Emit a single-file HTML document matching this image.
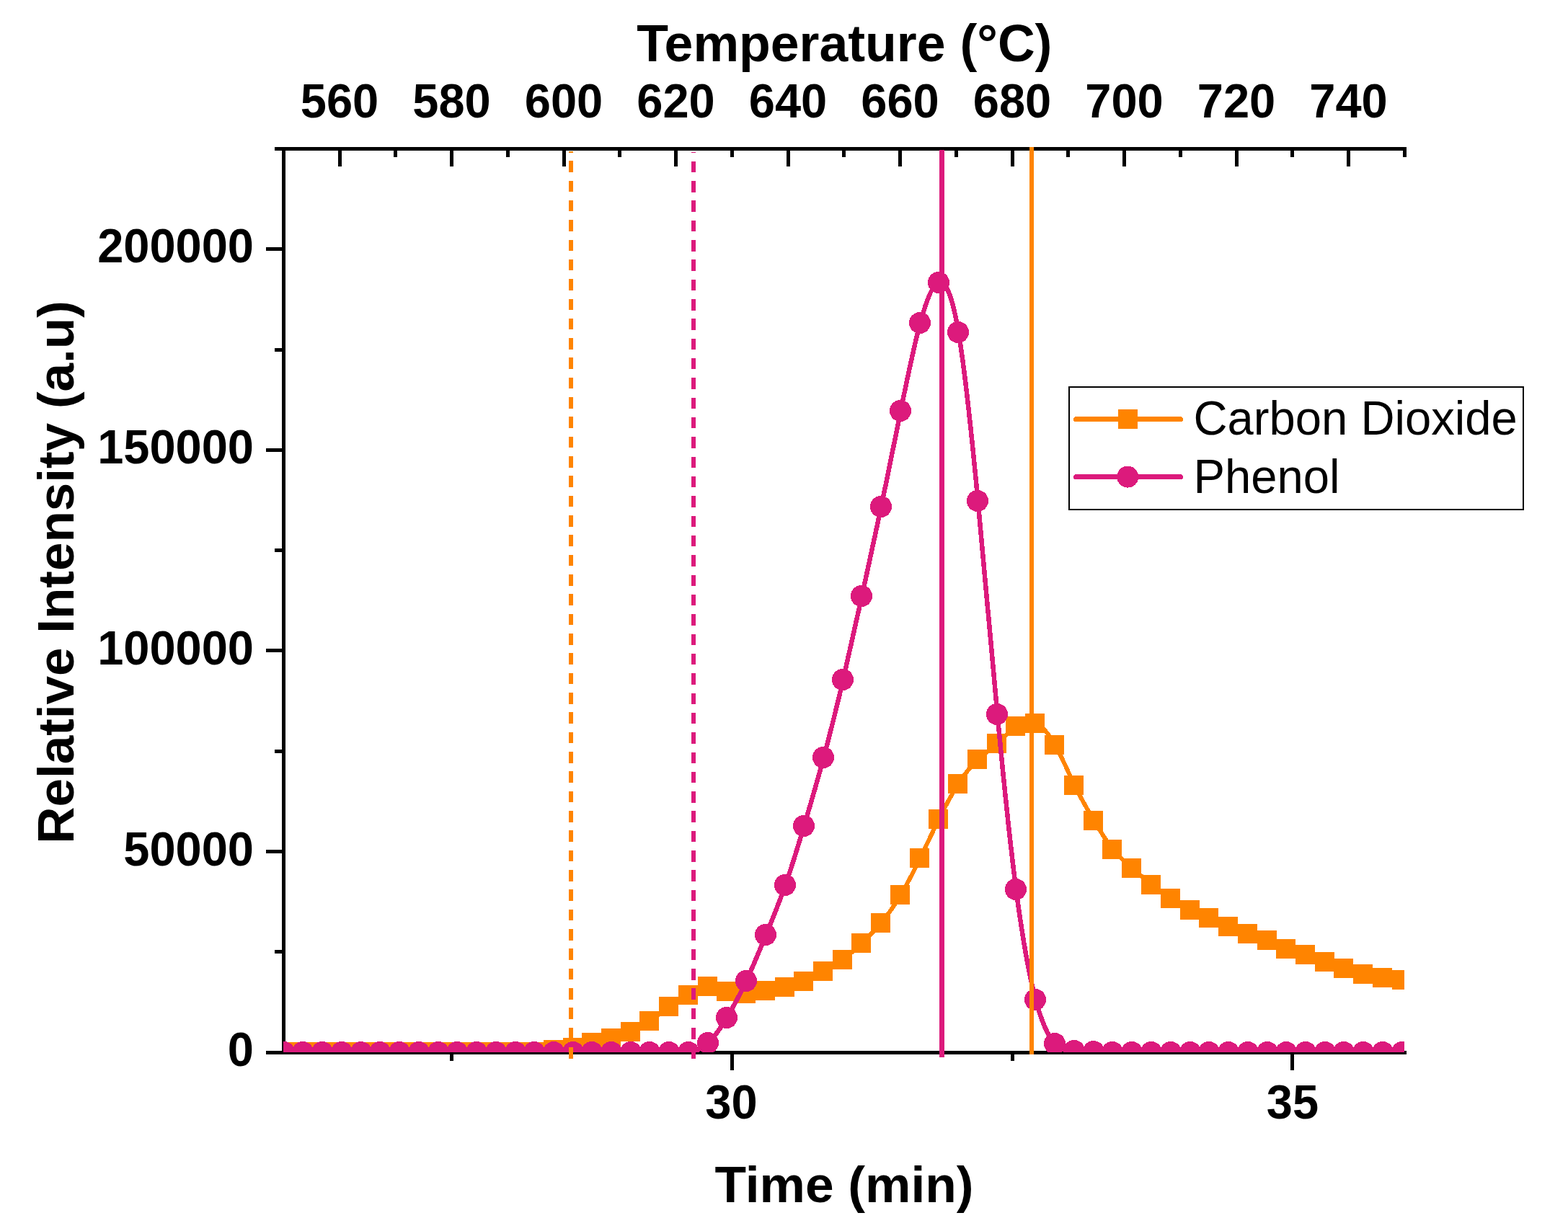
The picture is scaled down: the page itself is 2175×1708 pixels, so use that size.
<!DOCTYPE html>
<html lang="en"><head><meta charset="utf-8"><title>Relative Intensity vs Time</title>
<style>
html,body{margin:0;padding:0;background:#fff;}
body{width:2175px;height:1708px;overflow:hidden;}
svg{display:block;}
text{font-family:"Liberation Sans",sans-serif;fill:#000;}
.b{font-weight:bold;}
.tk{font-size:65px;font-weight:bold;}
.tt{font-size:71px;font-weight:bold;}
.t1{font-size:71.6px;font-weight:bold;}
.t2{font-size:71.3px;font-weight:bold;}
.lg{font-size:65.2px;}
</style></head><body>
<svg width="2175" height="1708" viewBox="0 0 2175 1708" role="img" aria-label="Relative intensity of carbon dioxide and phenol versus time and temperature">
<rect x="0" y="0" width="2175" height="1708" fill="#fff"/>
<defs><clipPath id="plot"><rect x="393" y="206.5" width="1555" height="1253.5"/></clipPath></defs>
<g fill="#000" shape-rendering="crispEdges">
<rect x="391" y="204" width="5" height="1259"/>
<rect x="381" y="204" width="1570" height="5"/>
<rect x="369" y="1458" width="1582" height="5"/>
<rect x="369" y="343" width="23" height="5"/>
<rect x="369" y="622" width="23" height="5"/>
<rect x="369" y="900" width="23" height="5"/>
<rect x="369" y="1179" width="23" height="5"/>
<rect x="369" y="1458" width="23" height="5"/>
<rect x="381" y="483" width="11" height="5"/>
<rect x="381" y="761" width="11" height="5"/>
<rect x="381" y="1040" width="11" height="5"/>
<rect x="381" y="1318" width="11" height="5"/>
<rect x="469" y="208" width="5" height="23"/>
<rect x="624" y="208" width="5" height="23"/>
<rect x="780" y="208" width="5" height="23"/>
<rect x="935" y="208" width="5" height="23"/>
<rect x="1091" y="208" width="5" height="23"/>
<rect x="1246" y="208" width="5" height="23"/>
<rect x="1402" y="208" width="5" height="23"/>
<rect x="1557" y="208" width="5" height="23"/>
<rect x="1713" y="208" width="5" height="23"/>
<rect x="1868" y="208" width="5" height="23"/>
<rect x="546" y="208" width="5" height="10"/>
<rect x="702" y="208" width="5" height="10"/>
<rect x="857" y="208" width="5" height="10"/>
<rect x="1013" y="208" width="5" height="10"/>
<rect x="1168" y="208" width="5" height="10"/>
<rect x="1324" y="208" width="5" height="10"/>
<rect x="1479" y="208" width="5" height="10"/>
<rect x="1635" y="208" width="5" height="10"/>
<rect x="1790" y="208" width="5" height="10"/>
<rect x="1946" y="208" width="5" height="10"/>
<rect x="1013" y="1462" width="5" height="23"/>
<rect x="1790" y="1462" width="5" height="23"/>
<rect x="624" y="1462" width="5" height="10"/>
<rect x="1402" y="1462" width="5" height="10"/>
</g>
<g clip-path="url(#plot)" shape-rendering="crispEdges">
<path d="M394.50 1459.40 C403.17 1459.40 411.83 1459.40 420.50 1459.40 C429.50 1459.40 438.50 1459.40 447.50 1459.40 C456.50 1459.40 465.50 1459.40 474.50 1459.40 C483.50 1459.40 492.50 1459.40 501.50 1459.40 C510.17 1459.40 518.83 1459.40 527.50 1459.40 C536.50 1459.40 545.50 1459.40 554.50 1459.40 C563.50 1459.40 572.50 1459.40 581.50 1459.40 C590.50 1459.40 599.50 1459.40 608.50 1459.40 C617.17 1459.40 625.83 1459.40 634.50 1459.40 C643.50 1459.40 652.50 1459.39 661.50 1459.40 C670.50 1459.41 679.50 1459.44 688.50 1459.40 C697.50 1459.36 706.50 1459.26 715.50 1459.40 C724.17 1459.53 732.83 1459.88 741.50 1459.40 C750.50 1458.90 759.50 1457.51 768.50 1456.60 C777.50 1455.69 786.50 1455.27 795.50 1453.50 C804.17 1451.80 812.83 1448.85 821.50 1446.60 C830.50 1444.26 839.50 1442.69 848.50 1440.50 C857.50 1438.31 866.50 1435.52 875.50 1431.50 C884.17 1427.62 892.83 1422.61 901.50 1416.50 C910.50 1410.16 919.50 1402.64 928.50 1396.60 C937.50 1390.56 946.50 1385.98 955.50 1380.60 C964.50 1375.22 973.50 1369.04 982.50 1368.50 C991.17 1367.98 999.83 1372.70 1008.50 1375.40 C1017.50 1378.21 1026.50 1378.84 1035.50 1378.30 C1044.50 1377.76 1053.50 1376.06 1062.50 1374.50 C1071.50 1372.94 1080.50 1371.53 1089.50 1369.50 C1098.17 1367.55 1106.83 1365.03 1115.50 1361.30 C1124.50 1357.43 1133.50 1352.25 1142.50 1347.40 C1151.50 1342.55 1160.50 1338.04 1169.50 1331.40 C1178.17 1325.00 1186.83 1316.63 1195.50 1308.30 C1204.50 1299.65 1213.50 1291.05 1222.50 1280.30 C1231.50 1269.55 1240.50 1256.64 1249.50 1241.50 C1258.50 1226.36 1267.50 1209.00 1276.50 1190.50 C1285.17 1172.68 1293.83 1153.80 1302.50 1136.30 C1311.50 1118.13 1320.50 1101.44 1329.50 1087.40 C1338.50 1073.36 1347.50 1061.95 1356.50 1053.50 C1365.50 1045.05 1374.50 1039.55 1383.50 1031.50 C1392.17 1023.74 1400.83 1013.61 1409.50 1007.60 C1418.50 1001.35 1427.50 999.55 1436.50 1003.60 C1445.50 1007.65 1454.50 1017.57 1463.50 1033.40 C1472.50 1049.23 1481.50 1070.97 1490.50 1089.50 C1499.50 1108.03 1508.50 1123.35 1517.50 1138.50 C1526.17 1153.09 1534.83 1167.51 1543.50 1178.30 C1552.50 1189.51 1561.50 1196.80 1570.50 1204.50 C1579.50 1212.20 1588.50 1220.29 1597.50 1227.40 C1606.50 1234.51 1615.50 1240.63 1624.50 1246.50 C1633.50 1252.37 1642.50 1257.99 1651.50 1262.40 C1660.17 1266.64 1668.83 1269.76 1677.50 1273.40 C1686.50 1277.18 1695.50 1281.54 1704.50 1285.40 C1713.50 1289.26 1722.50 1292.64 1731.50 1295.50 C1740.50 1298.36 1749.50 1300.70 1758.50 1304.50 C1767.17 1308.16 1775.83 1313.16 1784.50 1316.50 C1793.50 1319.96 1802.50 1321.62 1811.50 1324.40 C1820.50 1327.18 1829.50 1331.07 1838.50 1334.50 C1847.17 1337.80 1855.83 1340.68 1864.50 1343.50 C1873.50 1346.43 1882.50 1349.29 1891.50 1351.50 C1900.50 1353.71 1909.50 1355.27 1918.50 1356.50 C1927.50 1357.73 1936.50 1358.61 1945.50 1359.50" fill="none" stroke="#FF8400" stroke-width="6" stroke-linejoin="round"/>
<g fill="#FF8400">
<rect x="380" y="1446" width="27" height="27"/>
<rect x="406" y="1446" width="27" height="27"/>
<rect x="433" y="1446" width="27" height="27"/>
<rect x="460" y="1446" width="27" height="27"/>
<rect x="487" y="1446" width="27" height="27"/>
<rect x="513" y="1446" width="27" height="27"/>
<rect x="540" y="1446" width="27" height="27"/>
<rect x="567" y="1446" width="27" height="27"/>
<rect x="594" y="1446" width="27" height="27"/>
<rect x="620" y="1446" width="27" height="27"/>
<rect x="647" y="1446" width="27" height="27"/>
<rect x="674" y="1446" width="27" height="27"/>
<rect x="701" y="1446" width="27" height="27"/>
<rect x="727" y="1446" width="27" height="27"/>
<rect x="754" y="1443" width="27" height="27"/>
<rect x="781" y="1440" width="27" height="27"/>
<rect x="807" y="1433" width="27" height="27"/>
<rect x="834" y="1427" width="27" height="27"/>
<rect x="861" y="1418" width="27" height="27"/>
<rect x="887" y="1403" width="27" height="27"/>
<rect x="914" y="1383" width="27" height="27"/>
<rect x="941" y="1367" width="27" height="27"/>
<rect x="968" y="1355" width="27" height="27"/>
<rect x="994" y="1362" width="27" height="27"/>
<rect x="1021" y="1365" width="27" height="27"/>
<rect x="1048" y="1361" width="27" height="27"/>
<rect x="1075" y="1356" width="27" height="27"/>
<rect x="1101" y="1348" width="27" height="27"/>
<rect x="1128" y="1334" width="27" height="27"/>
<rect x="1155" y="1318" width="27" height="27"/>
<rect x="1181" y="1295" width="27" height="27"/>
<rect x="1208" y="1267" width="27" height="27"/>
<rect x="1235" y="1228" width="27" height="27"/>
<rect x="1262" y="1177" width="27" height="27"/>
<rect x="1288" y="1123" width="27" height="27"/>
<rect x="1315" y="1074" width="27" height="27"/>
<rect x="1342" y="1040" width="27" height="27"/>
<rect x="1369" y="1018" width="27" height="27"/>
<rect x="1395" y="994" width="27" height="27"/>
<rect x="1422" y="990" width="27" height="27"/>
<rect x="1449" y="1020" width="27" height="27"/>
<rect x="1476" y="1076" width="27" height="27"/>
<rect x="1503" y="1125" width="27" height="27"/>
<rect x="1529" y="1165" width="27" height="27"/>
<rect x="1556" y="1191" width="27" height="27"/>
<rect x="1583" y="1214" width="27" height="27"/>
<rect x="1610" y="1233" width="27" height="27"/>
<rect x="1637" y="1249" width="27" height="27"/>
<rect x="1663" y="1260" width="27" height="27"/>
<rect x="1690" y="1272" width="27" height="27"/>
<rect x="1717" y="1282" width="27" height="27"/>
<rect x="1744" y="1291" width="27" height="27"/>
<rect x="1770" y="1303" width="27" height="27"/>
<rect x="1797" y="1311" width="27" height="27"/>
<rect x="1824" y="1321" width="27" height="27"/>
<rect x="1850" y="1330" width="27" height="27"/>
<rect x="1877" y="1338" width="27" height="27"/>
<rect x="1904" y="1343" width="27" height="27"/>
<rect x="1931" y="1346" width="27" height="27"/>
</g>
<path d="M394.50 1459.70 C403.17 1459.70 411.83 1459.70 420.50 1459.70 C429.50 1459.70 438.50 1459.70 447.50 1459.70 C456.50 1459.70 465.50 1459.70 474.50 1459.70 C483.50 1459.70 492.50 1459.70 501.50 1459.70 C510.17 1459.70 518.83 1459.70 527.50 1459.70 C536.50 1459.70 545.50 1459.70 554.50 1459.70 C563.50 1459.70 572.50 1459.70 581.50 1459.70 C590.50 1459.70 599.50 1459.70 608.50 1459.70 C617.17 1459.70 625.83 1459.70 634.50 1459.70 C643.50 1459.70 652.50 1459.70 661.50 1459.70 C670.50 1459.70 679.50 1459.70 688.50 1459.70 C697.50 1459.70 706.50 1459.70 715.50 1459.70 C724.17 1459.70 732.83 1459.70 741.50 1459.70 C750.50 1459.70 759.50 1459.70 768.50 1459.70 C777.50 1459.70 786.50 1459.70 795.50 1459.70 C804.17 1459.70 812.83 1459.70 821.50 1459.70 C830.50 1459.70 839.50 1459.71 848.50 1459.70 C857.50 1459.69 866.50 1459.68 875.50 1459.70 C884.17 1459.72 892.83 1459.78 901.50 1459.70 C910.50 1459.62 919.50 1459.39 928.50 1459.70 C937.50 1460.01 946.50 1460.85 955.50 1459.70 C964.50 1458.55 973.50 1455.40 982.50 1447.00 C991.17 1438.91 999.83 1425.95 1008.50 1411.50 C1017.50 1396.50 1026.50 1379.90 1035.50 1360.50 C1044.50 1341.10 1053.50 1318.90 1062.50 1297.00 C1071.50 1275.10 1080.50 1253.49 1089.50 1227.80 C1098.17 1203.06 1106.83 1174.55 1115.50 1145.50 C1124.50 1115.33 1133.50 1084.60 1142.50 1051.20 C1151.50 1017.80 1160.50 981.75 1169.50 943.20 C1178.17 906.08 1186.83 866.65 1195.50 827.30 C1204.50 786.44 1213.50 745.67 1222.50 702.60 C1231.50 659.53 1240.50 614.18 1249.50 569.60 C1258.50 525.02 1267.50 481.22 1276.50 448.00 C1285.17 416.01 1293.83 393.82 1302.50 391.50 C1311.50 389.09 1320.50 408.10 1329.50 460.70 C1338.50 513.30 1347.50 599.48 1356.50 694.90 C1365.50 790.32 1374.50 894.96 1383.50 991.00 C1392.17 1083.48 1400.83 1167.99 1409.50 1234.40 C1418.50 1303.37 1427.50 1352.83 1436.50 1386.70 C1445.50 1420.57 1454.50 1438.86 1463.50 1448.20 C1472.50 1457.54 1481.50 1457.93 1490.50 1458.20 C1499.50 1458.47 1508.50 1458.62 1517.50 1458.90 C1526.17 1459.17 1534.83 1459.56 1543.50 1459.70 C1552.50 1459.85 1561.50 1459.74 1570.50 1459.70 C1579.50 1459.66 1588.50 1459.69 1597.50 1459.70 C1606.50 1459.71 1615.50 1459.70 1624.50 1459.70 C1633.50 1459.70 1642.50 1459.70 1651.50 1459.70 C1660.17 1459.70 1668.83 1459.70 1677.50 1459.70 C1686.50 1459.70 1695.50 1459.70 1704.50 1459.70 C1713.50 1459.70 1722.50 1459.70 1731.50 1459.70 C1740.50 1459.70 1749.50 1459.70 1758.50 1459.70 C1767.17 1459.70 1775.83 1459.70 1784.50 1459.70 C1793.50 1459.70 1802.50 1459.70 1811.50 1459.70 C1820.50 1459.70 1829.50 1459.70 1838.50 1459.70 C1847.17 1459.70 1855.83 1459.70 1864.50 1459.70 C1873.50 1459.70 1882.50 1459.70 1891.50 1459.70 C1900.50 1459.70 1909.50 1459.70 1918.50 1459.70 C1927.50 1459.70 1936.50 1459.70 1945.50 1459.70" fill="none" stroke="#DC1A7C" stroke-width="6.5" stroke-linejoin="round"/>
<g fill="#DC1A7C">
<circle cx="394" cy="1460" r="15"/>
<circle cx="420" cy="1460" r="15"/>
<circle cx="447" cy="1460" r="15"/>
<circle cx="474" cy="1460" r="15"/>
<circle cx="501" cy="1460" r="15"/>
<circle cx="527" cy="1460" r="15"/>
<circle cx="554" cy="1460" r="15"/>
<circle cx="581" cy="1460" r="15"/>
<circle cx="608" cy="1460" r="15"/>
<circle cx="634" cy="1460" r="15"/>
<circle cx="661" cy="1460" r="15"/>
<circle cx="688" cy="1460" r="15"/>
<circle cx="715" cy="1460" r="15"/>
<circle cx="741" cy="1460" r="15"/>
<circle cx="768" cy="1460" r="15"/>
<circle cx="795" cy="1460" r="15"/>
<circle cx="821" cy="1460" r="15"/>
<circle cx="848" cy="1460" r="15"/>
<circle cx="875" cy="1460" r="15"/>
<circle cx="901" cy="1460" r="15"/>
<circle cx="928" cy="1460" r="15"/>
<circle cx="955" cy="1460" r="15"/>
<circle cx="982" cy="1447" r="15"/>
<circle cx="1008" cy="1412" r="15"/>
<circle cx="1035" cy="1361" r="15"/>
<circle cx="1062" cy="1297" r="15"/>
<circle cx="1089" cy="1228" r="15"/>
<circle cx="1115" cy="1146" r="15"/>
<circle cx="1142" cy="1051" r="15"/>
<circle cx="1169" cy="943" r="15"/>
<circle cx="1195" cy="827" r="15"/>
<circle cx="1222" cy="703" r="15"/>
<circle cx="1249" cy="570" r="15"/>
<circle cx="1276" cy="448" r="15"/>
<circle cx="1302" cy="392" r="15"/>
<circle cx="1329" cy="461" r="15"/>
<circle cx="1356" cy="695" r="15"/>
<circle cx="1383" cy="991" r="15"/>
<circle cx="1409" cy="1234" r="15"/>
<circle cx="1436" cy="1387" r="15"/>
<circle cx="1463" cy="1448" r="15"/>
<circle cx="1490" cy="1458" r="15"/>
<circle cx="1517" cy="1459" r="15"/>
<circle cx="1543" cy="1460" r="15"/>
<circle cx="1570" cy="1460" r="15"/>
<circle cx="1597" cy="1460" r="15"/>
<circle cx="1624" cy="1460" r="15"/>
<circle cx="1651" cy="1460" r="15"/>
<circle cx="1677" cy="1460" r="15"/>
<circle cx="1704" cy="1460" r="15"/>
<circle cx="1731" cy="1460" r="15"/>
<circle cx="1758" cy="1460" r="15"/>
<circle cx="1784" cy="1460" r="15"/>
<circle cx="1811" cy="1460" r="15"/>
<circle cx="1838" cy="1460" r="15"/>
<circle cx="1864" cy="1460" r="15"/>
<circle cx="1891" cy="1460" r="15"/>
<circle cx="1918" cy="1460" r="15"/>
<circle cx="1945" cy="1460" r="15"/>
</g>
</g>
<g shape-rendering="crispEdges">
<g fill="#FF8400">
<rect x="789" y="210" width="6" height="2"/>
<rect x="789" y="223" width="6" height="16"/>
<rect x="789" y="251" width="6" height="15"/>
<rect x="789" y="278" width="6" height="15"/>
<rect x="789" y="305" width="6" height="16"/>
<rect x="789" y="333" width="6" height="15"/>
<rect x="789" y="360" width="6" height="15"/>
<rect x="789" y="387" width="6" height="16"/>
<rect x="789" y="415" width="6" height="15"/>
<rect x="789" y="442" width="6" height="15"/>
<rect x="789" y="469" width="6" height="16"/>
<rect x="789" y="496" width="6" height="16"/>
<rect x="789" y="524" width="6" height="15"/>
<rect x="789" y="551" width="6" height="16"/>
<rect x="789" y="578" width="6" height="16"/>
<rect x="789" y="606" width="6" height="15"/>
<rect x="789" y="633" width="6" height="16"/>
<rect x="789" y="660" width="6" height="16"/>
<rect x="789" y="688" width="6" height="15"/>
<rect x="789" y="715" width="6" height="16"/>
<rect x="789" y="742" width="6" height="16"/>
<rect x="789" y="770" width="6" height="15"/>
<rect x="789" y="797" width="6" height="16"/>
<rect x="789" y="824" width="6" height="16"/>
<rect x="789" y="852" width="6" height="15"/>
<rect x="789" y="879" width="6" height="16"/>
<rect x="789" y="906" width="6" height="16"/>
<rect x="789" y="934" width="6" height="15"/>
<rect x="789" y="961" width="6" height="16"/>
<rect x="789" y="988" width="6" height="16"/>
<rect x="789" y="1016" width="6" height="15"/>
<rect x="789" y="1043" width="6" height="16"/>
<rect x="789" y="1070" width="6" height="16"/>
<rect x="789" y="1098" width="6" height="15"/>
<rect x="789" y="1125" width="6" height="16"/>
<rect x="789" y="1152" width="6" height="16"/>
<rect x="789" y="1180" width="6" height="15"/>
<rect x="789" y="1207" width="6" height="16"/>
<rect x="789" y="1234" width="6" height="16"/>
<rect x="789" y="1262" width="6" height="15"/>
<rect x="789" y="1289" width="6" height="16"/>
<rect x="789" y="1316" width="6" height="16"/>
<rect x="789" y="1344" width="6" height="15"/>
<rect x="789" y="1371" width="6" height="16"/>
<rect x="789" y="1398" width="6" height="16"/>
<rect x="789" y="1426" width="6" height="15"/>
<rect x="789" y="1453" width="6" height="16"/>
</g>
<g fill="#DC1A7C">
<rect x="959" y="211" width="6" height="1"/>
<rect x="959" y="224" width="6" height="15"/>
<rect x="959" y="251" width="6" height="16"/>
<rect x="959" y="278" width="6" height="16"/>
<rect x="959" y="306" width="6" height="15"/>
<rect x="959" y="333" width="6" height="16"/>
<rect x="959" y="360" width="6" height="16"/>
<rect x="959" y="388" width="6" height="15"/>
<rect x="959" y="415" width="6" height="16"/>
<rect x="959" y="442" width="6" height="16"/>
<rect x="959" y="470" width="6" height="15"/>
<rect x="959" y="497" width="6" height="15"/>
<rect x="959" y="524" width="6" height="16"/>
<rect x="959" y="552" width="6" height="15"/>
<rect x="959" y="579" width="6" height="15"/>
<rect x="959" y="606" width="6" height="16"/>
<rect x="959" y="634" width="6" height="15"/>
<rect x="959" y="661" width="6" height="15"/>
<rect x="959" y="688" width="6" height="16"/>
<rect x="959" y="716" width="6" height="15"/>
<rect x="959" y="743" width="6" height="15"/>
<rect x="959" y="770" width="6" height="16"/>
<rect x="959" y="798" width="6" height="15"/>
<rect x="959" y="825" width="6" height="15"/>
<rect x="959" y="852" width="6" height="16"/>
<rect x="959" y="880" width="6" height="15"/>
<rect x="959" y="907" width="6" height="15"/>
<rect x="959" y="934" width="6" height="16"/>
<rect x="959" y="962" width="6" height="15"/>
<rect x="959" y="989" width="6" height="15"/>
<rect x="959" y="1016" width="6" height="16"/>
<rect x="959" y="1044" width="6" height="15"/>
<rect x="959" y="1071" width="6" height="15"/>
<rect x="959" y="1098" width="6" height="16"/>
<rect x="959" y="1125" width="6" height="16"/>
<rect x="959" y="1153" width="6" height="15"/>
<rect x="959" y="1180" width="6" height="16"/>
<rect x="959" y="1207" width="6" height="16"/>
<rect x="959" y="1235" width="6" height="15"/>
<rect x="959" y="1262" width="6" height="16"/>
<rect x="959" y="1289" width="6" height="16"/>
<rect x="959" y="1317" width="6" height="15"/>
<rect x="959" y="1344" width="6" height="16"/>
<rect x="959" y="1371" width="6" height="16"/>
<rect x="959" y="1399" width="6" height="15"/>
<rect x="959" y="1426" width="6" height="16"/>
<rect x="959" y="1453" width="6" height="16"/>
</g>
<rect x="1303" y="208" width="7" height="1259" fill="#DC1A7C"/>
<rect x="1428" y="204" width="6" height="1259" fill="#FF8400"/>
</g>
<rect x="1483" y="537" width="630" height="170" fill="none" stroke="#000" stroke-width="2" shape-rendering="crispEdges"/>
<g shape-rendering="crispEdges">
<line x1="1492.5" y1="581.5" x2="1637.5" y2="581.5" stroke="#FF8400" stroke-width="7" stroke-linecap="round"/>
<rect x="1551" y="568" width="27" height="27" fill="#FF8400"/>
<line x1="1492.5" y1="661.5" x2="1637.5" y2="661.5" stroke="#DC1A7C" stroke-width="7" stroke-linecap="round"/>
<circle cx="1564.3" cy="661.6" r="15" fill="#DC1A7C"/>
</g>
<text class="lg" transform="translate(1655.5 603.2) scale(1 1.015)">Carbon Dioxide</text>
<text class="lg" transform="translate(1655.5 683.7) scale(1 1.015)">Phenol</text>
<text class="t1" transform="translate(1171.3 85)" text-anchor="middle">Temperature (°C)</text>
<text class="tk" transform="translate(471 163.2) scale(1 1.03)" text-anchor="middle">560</text>
<text class="tk" transform="translate(626.5 163.2) scale(1 1.03)" text-anchor="middle">580</text>
<text class="tk" transform="translate(782 163.2) scale(1 1.03)" text-anchor="middle">600</text>
<text class="tk" transform="translate(937.5 163.2) scale(1 1.03)" text-anchor="middle">620</text>
<text class="tk" transform="translate(1093 163.2) scale(1 1.03)" text-anchor="middle">640</text>
<text class="tk" transform="translate(1248.5 163.2) scale(1 1.03)" text-anchor="middle">660</text>
<text class="tk" transform="translate(1404 163.2) scale(1 1.03)" text-anchor="middle">680</text>
<text class="tk" transform="translate(1559.5 163.2) scale(1 1.03)" text-anchor="middle">700</text>
<text class="tk" transform="translate(1715 163.2) scale(1 1.03)" text-anchor="middle">720</text>
<text class="tk" transform="translate(1870.5 163.2) scale(1 1.03)" text-anchor="middle">740</text>
<text class="tk" transform="translate(352 364.4) scale(1 1.03)" text-anchor="end">200000</text>
<text class="tk" transform="translate(352 643.15) scale(1 1.03)" text-anchor="end">150000</text>
<text class="tk" transform="translate(352 921.9) scale(1 1.03)" text-anchor="end">100000</text>
<text class="tk" transform="translate(352 1200.65) scale(1 1.03)" text-anchor="end">50000</text>
<text class="tk" transform="translate(352 1479.4) scale(1 1.03)" text-anchor="end">0</text>
<text class="tk" transform="translate(1014.5 1551.9) scale(1 1.03)" text-anchor="middle">30</text>
<text class="tk" transform="translate(1793 1551.9) scale(1 1.03)" text-anchor="middle">35</text>
<text class="t2" transform="translate(1171 1668.2)" text-anchor="middle">Time (min)</text>
<text class="tt" transform="translate(102 794) rotate(-90)" text-anchor="middle">Relative Intensity (a.u)</text>
</svg>
</body></html>
